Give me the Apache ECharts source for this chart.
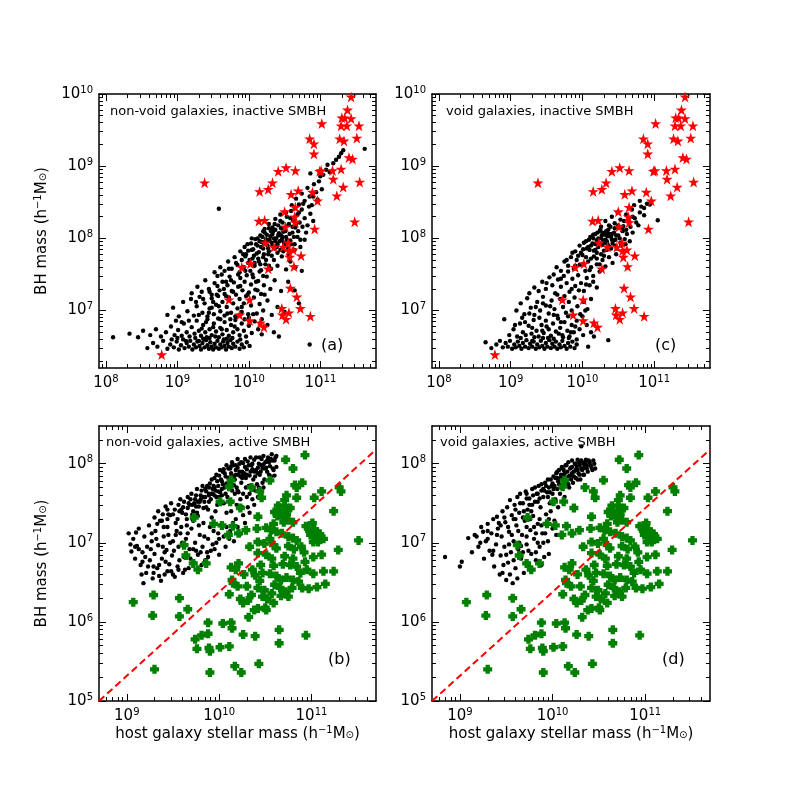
<!DOCTYPE html>
<html>
<head>
<meta charset="utf-8">
<script src="https://cdn.jsdelivr.net/npm/echarts@6/dist/echarts.min.js"></script>
<style>
  html, body { margin: 0; background: #fff; }
  #chart { width: 789px; height: 789px; }
</style>
</head>
<body>
<div id="chart"></div>
<script>
// all values are log10 of the mass

// observed SMBHs, same in (a) and (c)
const redStars = [
  [11.43,9.96],[11.38,9.78],[11.30,9.67],[11.34,9.67],[11.43,9.66],[11.02,9.59],[11.29,9.56],[11.37,9.56],[11.54,9.56],
  [10.85,9.38],[10.91,9.31],[11.27,9.38],[11.33,9.35],[11.51,9.39],[10.91,9.17],[11.40,9.12],[11.45,9.10],
  [10.52,8.98],[10.41,8.93],[10.65,8.94],[10.99,8.93],[11.01,8.94],[11.17,8.94],[11.29,8.96],[11.18,8.82],[11.55,8.78],
  [9.38,8.77],[10.33,8.77],[10.27,8.68],[10.15,8.65],[10.69,8.66],[10.89,8.64],[11.32,8.71],[10.59,8.61],[11.23,8.59],
  [10.96,8.52],[10.65,8.43],[10.50,8.37],[10.64,8.30],[10.14,8.24],[10.22,8.25],[11.48,8.23],[10.51,8.16],[10.65,8.22],
  [10.92,8.13],[10.23,7.94],[10.55,7.94],[10.35,7.88],[10.48,7.88],[10.56,7.83],[10.62,7.84],[10.57,7.74],[10.73,7.76],
  [10.63,7.61],[9.90,7.60],[10.02,7.65],[10.27,7.58],[10.58,7.31],[10.67,7.19],[10.72,7.03],[10.46,7.03],[10.47,6.94],
  [10.56,6.97],[10.52,6.88],[10.86,6.92],[9.72,7.15],[10.01,7.15],[9.87,6.94],[10.01,6.86],[10.16,6.83],[10.21,6.77],
  [8.78,6.39],[10.48,6.19]
];

// observed AGN, same in (b) and (d)
const greenActive = [
  [10.93,8.11],[10.72,8.05],[10.80,7.94],[10.13,7.79],[10.11,7.71],[10.35,7.70],[10.55,7.79],[10.90,7.76],[10.82,7.73],
  [10.84,7.70],[11.30,7.70],[11.32,7.65],[11.11,7.65],[10.44,7.65],[10.73,7.60],[10.84,7.57],[11.03,7.57],[10.01,7.52],
  [10.12,7.52],[10.23,7.44],[10.46,7.57],[9.73,7.32],[9.94,7.24],[10.03,7.22],[10.15,7.21],[10.60,7.39],[10.65,7.41],
  [10.71,7.40],[10.73,7.36],[10.63,7.34],[10.69,7.32],[10.75,7.29],[10.59,7.24],[10.70,7.26],[10.80,7.26],[10.71,7.54],
  [10.71,7.47],[10.64,7.47],[10.41,7.18],[10.42,7.33],[10.94,7.21],[11.01,7.25],[11.03,7.17],[10.98,7.15],[11.06,7.14],
  [10.99,7.10],[11.09,7.11],[11.05,7.06],[11.13,7.05],[11.07,7.01],[11.02,7.01],[11.24,7.40],[11.51,7.03],[11.29,6.91],
  [11.24,6.64],[11.13,6.64],[10.29,7.16],[10.21,7.12],[10.10,7.10],[10.51,7.19],[10.56,7.16],[10.62,7.14],[10.68,7.12],
  [10.75,7.08],[10.80,7.06],[10.84,7.03],[9.62,6.97],[9.64,6.84],[9.72,6.74],[9.86,6.74],[9.77,6.66],[10.13,6.69],
  [10.18,6.66],[10.14,6.53],[10.21,6.74],[10.42,7.01],[10.49,6.99],[10.59,6.97],[10.75,6.96],[10.62,6.93],[10.81,6.92],
  [10.89,6.95],[10.42,6.87],[10.51,6.85],[10.57,6.80],[10.71,6.83],[10.80,6.80],[10.93,6.76],[11.02,6.82],[11.11,6.85],
  [10.45,6.72],[10.59,6.71],[10.69,6.73],[10.77,6.72],[10.84,6.70],[10.95,6.66],[11.02,6.61],[10.36,6.66],[10.39,6.59],
  [10.55,6.61],[10.62,6.58],[10.67,6.53],[10.73,6.56],[10.80,6.53],[10.86,6.51],[10.97,6.42],[10.15,6.49],[10.20,6.45],
  [10.30,6.45],[10.44,6.52],[10.42,6.43],[10.49,6.40],[10.57,6.36],[10.66,6.43],[10.11,6.35],[10.23,6.29],[10.26,6.24],
  [10.31,6.27],[10.35,6.34],[10.47,6.32],[10.52,6.29],[10.51,6.15],[10.59,6.24],[10.67,6.33],[10.72,6.38],[10.75,6.32],
  [10.79,6.43],[10.90,6.43],[11.06,6.44],[11.15,6.48],[9.29,6.34],[9.07,6.25],[9.57,6.30],[9.57,6.07],[9.28,6.08],
  [9.66,6.16],[10.38,6.15],[10.42,6.17],[10.50,6.18],[10.32,6.06],[9.88,5.99],[10.04,5.98],[10.13,5.99],[10.14,5.92],
  [10.26,5.84],[10.39,5.82],[9.88,5.85],[9.74,5.78],[9.81,5.83],[10.65,5.90],[10.94,5.83],[9.76,5.66],[9.89,5.67],
  [9.90,5.63],[10.01,5.68],[10.11,5.69],[10.65,5.73],[10.17,5.44],[10.24,5.36],[10.43,5.47],[9.90,5.36],[9.30,5.40],
  [10.66,7.37],[10.77,7.44],[10.55,7.05],[10.33,6.95],[10.27,6.60],[10.47,6.62],[10.92,6.88],[10.88,6.62],[10.60,6.47]
];

// simulated galaxies (black dots)
const blackNonVoidInactive = [
  [8.58,6.48],[8.66,6.55],[8.72,6.50],[8.80,6.58],[8.86,6.47],[8.90,6.53],[8.95,6.49],[8.99,6.57],[9.02,6.46],[9.05,6.52],
  [9.08,6.60],[9.10,6.48],[9.13,6.55],[9.16,6.50],[9.18,6.58],[9.21,6.46],[9.23,6.53],[9.26,6.49],[9.28,6.57],[9.31,6.51],
  [9.33,6.46],[9.35,6.55],[9.38,6.49],[9.40,6.59],[9.42,6.52],[9.44,6.47],[9.46,6.56],[9.48,6.50],[9.50,6.46],[9.52,6.54],
  [9.54,6.49],[9.56,6.58],[9.58,6.47],[9.60,6.53],[9.62,6.49],[9.64,6.57],[9.66,6.51],[9.68,6.46],[9.70,6.55],[9.72,6.50],
  [9.74,6.59],[9.76,6.48],[9.78,6.54],[9.81,6.50],[9.84,6.57],[9.87,6.47],[9.90,6.53],[9.93,6.49],[9.97,6.56],[10.01,6.51],
  [9.45,6.62],[9.58,6.63],[9.69,6.61],[9.36,6.61],[9.25,6.62],
  [8.10,6.63],[8.33,6.68],[8.45,6.63],[8.52,6.72],[8.62,6.66],[8.70,6.74],[8.77,6.64],[8.84,6.70],[8.91,6.78],[8.96,6.66],
  [9.01,6.73],[9.06,6.65],[9.09,6.82],[9.13,6.70],[9.17,6.64],[9.20,6.77],[9.24,6.68],[9.27,6.86],[9.30,6.72],[9.33,6.65],
  [9.36,6.80],[9.39,6.70],[9.42,6.88],[9.45,6.74],[9.48,6.66],[9.51,6.82],[9.54,6.71],[9.57,6.89],[9.60,6.76],[9.63,6.67],
  [9.66,6.84],[9.69,6.73],[9.72,6.65],[9.75,6.80],[9.78,6.70],[9.81,6.87],[9.84,6.74],[9.87,6.66],[9.90,6.82],[9.93,6.72],
  [9.96,6.64],[10.00,6.79],[10.04,6.69],[10.08,6.85],[10.13,6.74],[10.18,6.67],[10.26,6.80],[10.35,6.70],[10.42,6.64],
  [8.86,6.94],[8.94,7.04],[9.02,6.92],[9.08,7.12],[9.14,6.99],[9.19,7.16],[9.23,6.93],[9.27,7.06],[9.31,7.19],[9.35,6.97],
  [9.38,7.10],[9.42,6.92],[9.45,7.03],[9.48,7.17],[9.51,6.95],[9.54,7.08],[9.57,7.20],[9.60,6.99],[9.63,7.12],[9.66,6.93],
  [9.69,7.05],[9.72,7.18],[9.75,6.97],[9.78,7.10],[9.81,6.92],[9.84,7.03],[9.87,7.16],[9.90,6.98],[9.93,7.10],[9.96,7.20],
  [9.99,6.95],[10.03,7.07],[10.07,7.18],[10.11,6.96],[10.15,7.09],[10.20,7.00],[10.26,7.14],[10.32,6.94],[10.40,7.05],[10.50,6.98],
  [9.20,7.24],[9.28,7.33],[9.34,7.26],[9.39,7.42],[9.44,7.30],[9.48,7.22],[9.52,7.38],[9.56,7.48],[9.59,7.28],[9.63,7.40],
  [9.66,7.23],[9.70,7.35],[9.73,7.47],[9.76,7.27],[9.79,7.39],[9.82,7.22],[9.85,7.33],[9.88,7.45],[9.91,7.28],[9.94,7.40],
  [9.97,7.49],[10.00,7.25],[10.03,7.36],[10.06,7.46],[10.09,7.29],[10.13,7.41],[10.17,7.23],[10.21,7.35],[10.25,7.47],[10.30,7.30],
  [10.36,7.42],[10.45,7.27],[10.55,7.40],[10.74,7.55],
  [9.52,7.53],[9.60,7.60],[9.66,7.55],[9.71,7.68],[9.76,7.58],[9.80,7.74],[9.84,7.63],[9.87,7.53],[9.90,7.70],[9.93,7.60],
  [9.96,7.78],[9.99,7.66],[10.02,7.55],[10.05,7.72],[10.08,7.62],[10.11,7.79],[10.14,7.68],[10.17,7.56],[10.20,7.74],[10.23,7.64],
  [10.27,7.78],[10.31,7.58],[10.35,7.70],[10.40,7.62],[10.46,7.75],[10.52,7.57],[10.58,7.68],[10.65,7.60],
  [9.88,7.82],[9.94,7.88],[9.99,7.83],[10.03,7.93],[10.06,7.85],[10.09,7.99],[10.12,7.90],[10.14,7.81],[10.16,8.04],[10.18,7.95],
  [10.20,7.86],[10.22,8.08],[10.24,7.99],[10.26,7.90],[10.28,7.82],[10.30,8.03],[10.32,7.94],[10.34,8.10],[10.36,7.86],[10.38,8.00],
  [10.40,7.92],[10.42,8.07],[10.44,7.84],[10.46,7.98],[10.48,8.09],[10.50,7.90],[10.52,8.02],[10.55,7.86],[10.58,7.97],[10.61,8.08],
  [10.64,7.92],[10.68,8.02],[10.72,7.88],[10.78,7.98],[10.12,8.00],[10.27,7.96],[10.33,8.06],[10.21,7.93],[10.37,7.96],[10.45,8.04],
  [10.22,8.13],[10.28,8.20],[10.33,8.15],[10.37,8.27],[10.41,8.18],[10.44,8.33],[10.47,8.22],[10.50,8.14],[10.53,8.30],[10.56,8.20],
  [10.59,8.38],[10.62,8.25],[10.65,8.15],[10.68,8.33],[10.71,8.22],[10.74,8.40],[10.78,8.28],[10.82,8.18],[10.86,8.34],[10.90,8.24],
  [10.60,8.46],[10.66,8.55],[10.70,8.47],[10.74,8.62],[10.78,8.52],[10.82,8.70],[10.85,8.58],[10.88,8.46],[10.91,8.75],[10.94,8.64],
  [10.98,8.79],[11.02,8.68],[10.86,8.90],
  [11.04,8.88],[11.08,8.95],[11.13,8.92],[11.18,9.04],[11.22,9.09],[11.26,9.13],[11.29,9.18],[11.32,9.22],[11.62,9.24],
  [9.58,8.41],[10.85,6.53],[10.64,7.28],[10.70,7.10],
  [9.95,7.75],[9.98,7.92],[10.01,7.70],[10.04,7.84],[10.07,7.76],[10.10,7.92],[10.13,7.72],[10.15,7.96],[10.17,7.88],[10.19,8.02],
  [10.21,7.78],[10.23,7.96],[10.25,8.05],[10.27,7.86],[10.29,7.98],[10.31,8.10],[10.33,7.90],[10.35,8.00],[10.37,8.12],[10.39,7.88],
  [10.41,8.04],[10.43,7.96],[10.45,8.14],[10.47,8.02],[10.49,7.94],[10.51,8.10],[10.53,7.98],[10.55,8.18],[10.57,8.06],[10.59,7.92],
  [10.61,8.16],[10.63,8.02],[10.66,8.20],[10.69,8.10],[10.72,7.98],[10.75,8.16],[10.80,8.08],[10.08,7.66],[10.16,7.64],[10.24,7.70],
  [10.32,7.76],[10.40,7.80],[10.48,7.82],[10.56,7.78],[10.64,7.84],[10.04,8.00],[10.20,8.10],[10.28,8.14],[10.36,8.20],[10.44,8.24],
  [10.52,8.36],[10.58,8.28],[10.64,8.42],[10.70,8.36],[10.76,8.48],[10.84,8.44],[10.90,8.58],[10.96,8.54],[11.00,8.86],[11.10,9.02],
  [9.30,6.58],[9.41,6.63],[9.53,6.64],[9.65,6.60],[9.77,6.62],[9.88,6.60],[9.30,6.94],[9.40,6.84],[9.50,7.12],[9.60,6.88],
  [9.70,6.96],[9.80,6.78],[9.90,7.05],[10.00,6.90],[9.45,7.26],[9.55,7.22],[9.65,7.30],[9.75,7.42],[9.85,7.50],[9.95,7.55],
  [10.05,7.50],[10.15,7.54],[9.62,7.50],[9.72,7.58],[9.82,7.66],[9.92,7.78],[10.10,7.40],[10.20,7.48],[10.28,7.62],[9.36,7.16],
  [9.48,7.04],[9.58,7.06],[9.68,7.20],[9.78,7.26],[9.88,7.34],[9.98,7.22],[9.26,7.12],[9.16,6.86],[9.06,6.84],[8.98,6.86],
  [9.12,6.58],[9.00,6.62],[8.92,6.60],[9.84,6.93],[9.94,6.88],[10.06,6.95],[10.18,6.88],[10.22,7.22],[10.12,7.28],[9.50,6.77],
  [9.62,6.74],[9.74,6.88],[9.34,6.75],[9.44,6.97],[9.56,7.34],[9.68,7.40]
];

const blackVoidInactive = [
  [8.65,6.56],[8.73,6.48],[8.80,6.53],[8.85,6.58],[8.89,6.49],[8.93,6.55],[8.96,6.50],[8.99,6.58],[9.02,6.47],[9.05,6.53],
  [9.07,6.49],[9.10,6.57],[9.12,6.51],[9.15,6.47],[9.17,6.55],[9.20,6.50],[9.22,6.59],[9.25,6.48],[9.27,6.54],[9.30,6.50],
  [9.32,6.57],[9.35,6.47],[9.37,6.53],[9.40,6.49],[9.42,6.58],[9.44,6.51],[9.47,6.47],[9.49,6.55],[9.51,6.50],[9.54,6.59],
  [9.56,6.48],[9.58,6.54],[9.61,6.50],[9.63,6.57],[9.65,6.47],[9.68,6.53],[9.70,6.49],[9.72,6.58],[9.75,6.51],[9.78,6.47],
  [9.80,6.55],[9.83,6.50],[9.86,6.57],[9.89,6.48],[9.92,6.53],[10.08,6.50],[10.36,6.59],[9.14,6.62],[9.33,6.63],[9.52,6.62],
  [9.73,6.63],
  [8.91,6.88],[8.98,6.66],[9.04,6.74],[9.09,6.64],[9.13,6.82],[9.17,6.70],[9.21,6.66],[9.25,6.79],[9.29,6.68],[9.32,6.87],
  [9.36,6.72],[9.39,6.64],[9.43,6.80],[9.46,6.69],[9.49,6.86],[9.53,6.74],[9.56,6.65],[9.59,6.82],[9.63,6.71],[9.66,6.89],
  [9.69,6.76],[9.72,6.66],[9.75,6.84],[9.79,6.72],[9.82,6.64],[9.85,6.80],[9.88,6.70],[9.92,6.86],[9.96,6.74],[10.01,6.66],
  [10.06,6.80],[10.12,6.70],[10.16,6.64],
  [9.08,7.00],[9.14,7.10],[9.19,6.95],[9.23,7.17],[9.28,7.04],[9.33,6.94],[9.37,7.12],[9.41,7.00],[9.45,7.19],[9.49,7.07],
  [9.53,6.96],[9.57,7.14],[9.61,7.02],[9.65,6.93],[9.69,7.16],[9.73,7.05],[9.77,6.97],[9.81,7.12],[9.85,7.00],[9.89,7.18],
  [9.93,7.06],[9.97,6.95],[10.02,7.12],[10.07,7.02],[10.12,7.16],
  [9.26,7.24],[9.33,7.32],[9.39,7.27],[9.44,7.40],[9.49,7.30],[9.54,7.46],[9.58,7.35],[9.62,7.24],[9.66,7.43],[9.70,7.33],
  [9.74,7.48],[9.78,7.38],[9.82,7.26],[9.86,7.44],[9.90,7.34],[9.94,7.49],[9.98,7.38],[10.02,7.27],[10.06,7.45],[10.10,7.35],
  [10.15,7.48],[10.20,7.32],
  [9.64,7.60],[9.70,7.55],[9.75,7.68],[9.80,7.62],[9.84,7.74],[9.88,7.58],[9.92,7.70],[9.96,7.63],[10.00,7.77],[10.04,7.55],
  [10.08,7.68],[10.12,7.60],[10.16,7.75],[10.20,7.64],[10.24,7.54],[10.28,7.70],[10.32,7.61],[10.37,7.74],[10.42,7.66],[10.47,7.78],
  [9.90,7.82],[9.96,7.90],[10.01,7.85],[10.05,7.96],[10.08,7.88],[10.11,8.02],[10.14,7.93],[10.16,7.83],[10.18,8.06],[10.20,7.97],
  [10.22,7.88],[10.24,8.10],[10.26,8.00],[10.28,7.91],[10.30,7.83],[10.32,8.05],[10.34,7.96],[10.36,8.12],[10.38,7.88],[10.40,8.02],
  [10.42,7.93],[10.44,8.08],[10.46,7.98],[10.48,7.86],[10.50,8.04],[10.53,7.94],[10.56,8.10],[10.59,7.99],[10.62,8.06],[10.66,7.96],
  [10.70,8.08],[10.15,8.00],[10.29,7.97],[10.35,8.03],[10.41,7.98],
  [10.26,8.16],[10.32,8.24],[10.37,8.18],[10.41,8.30],[10.45,8.21],[10.49,8.36],[10.53,8.26],[10.57,8.17],[10.61,8.33],[10.65,8.23],
  [10.69,8.40],[10.73,8.28],[10.78,8.18],[10.82,8.44],[10.86,8.32],[10.90,8.48],[10.94,8.47],[10.80,8.52],[11.05,8.25],[10.72,8.46],
  [9.98,7.80],[10.02,7.94],[10.06,7.86],[10.09,7.98],[10.12,7.90],[10.15,8.05],[10.18,7.92],[10.21,8.08],[10.23,7.94],[10.25,8.12],
  [10.27,8.04],[10.30,7.94],[10.33,8.10],[10.35,7.92],[10.37,8.06],[10.39,8.16],[10.41,8.06],[10.43,7.97],[10.45,8.14],[10.47,8.04],
  [10.50,8.18],[10.52,8.00],[10.55,8.14],[10.58,8.24],[10.61,8.12],[10.64,8.28],[10.67,8.16],[10.70,8.30],[10.75,8.22],[10.80,8.36],
  [10.86,8.42],[10.05,7.74],[10.12,7.72],[10.20,7.80],[10.26,7.78],[10.34,7.84],[10.40,7.86],[10.46,7.90],[10.54,7.90],[10.60,7.92],
  [10.10,7.84],[10.18,7.84],[10.22,8.00],[10.28,8.08],[10.32,7.98],
  [9.30,6.58],[9.45,6.62],[9.60,6.61],[9.81,6.62],[9.92,6.60],[9.20,6.84],[9.30,6.76],[9.40,6.90],[9.50,6.78],[9.60,6.94],
  [9.70,6.84],[9.80,6.92],[9.90,6.78],[10.00,6.92],[9.35,7.05],[9.45,7.10],[9.55,7.06],[9.65,7.22],[9.75,7.20],[9.85,7.30],
  [9.95,7.28],[10.05,7.36],[10.15,7.40],[9.50,7.38],[9.60,7.50],[9.70,7.44],[9.80,7.54],[9.90,7.62],[10.00,7.64],[10.10,7.56],
  [10.20,7.72],[10.30,7.76],[10.24,7.64],[9.78,7.70],[9.86,7.80],[9.94,7.76],[9.16,6.90],[9.26,6.96],[9.06,6.80],[9.44,6.72],
  [9.67,6.68],[9.84,6.70],[10.04,7.00]
];

const blackNonVoidActive = [
  [9.02,7.12],[9.05,6.89],[9.07,7.05],[9.09,6.80],[9.11,6.96],[9.13,7.18],[9.15,6.72],[9.17,6.88],[9.18,6.49],[9.19,7.08],
  [9.21,6.62],[9.22,6.95],[9.24,7.22],[9.25,6.78],[9.27,7.02],[9.28,6.55],[9.30,6.86],[9.31,7.15],[9.33,6.68],[9.34,6.97],
  [9.36,7.28],[9.37,6.52],[9.38,6.80],[9.40,7.08],[9.41,6.60],[9.43,6.91],[9.44,7.20],[9.46,6.73],[9.47,7.35],[9.49,6.84],
  [9.50,7.02],[9.52,6.57],[9.53,7.25],[9.55,6.70],[9.56,6.95],[9.58,7.12],[9.59,7.42],[9.61,6.62],[9.62,6.82],[9.64,7.05],
  [9.65,7.30],[9.67,6.68],[9.68,6.92],[9.70,7.18],[9.71,7.48],[9.73,6.75],[9.74,7.00],[9.76,7.38],[9.77,6.85],[9.79,7.10],
  [9.80,7.55],[9.82,6.95],[9.83,7.25],[9.85,6.78],[9.86,7.45],[9.88,7.05],[9.89,7.62],[9.91,6.90],[9.92,7.32],[9.94,7.15],
  [9.95,7.70],[9.97,7.00],[9.98,7.48],[10.00,6.85],[10.02,7.22],[10.03,7.60],[10.05,7.08],[10.07,6.95],[10.08,7.38],[10.10,7.75],
  [10.12,7.15],[10.14,7.52],[10.16,7.02],[10.18,7.30],[10.20,7.66],[10.22,7.10],[10.25,7.45],[10.28,7.25],[10.30,7.58],[10.33,7.38],
  [9.04,6.98],[9.10,7.13],[9.16,6.60],[9.20,6.82],[9.26,6.92],[9.29,6.70],[9.32,7.05],[9.35,6.58],[9.39,6.95],[9.42,6.76],
  [9.45,7.10],[9.48,6.64],[9.51,6.90],[9.54,7.15],[9.57,6.78],[9.60,7.00],[9.63,6.66],[9.66,7.12],[9.69,6.80],[9.72,7.28],
  [9.75,6.90],[9.78,7.22],[9.81,6.72],[9.84,7.08],[9.87,6.88],[9.90,7.20],[9.93,6.98],[9.96,7.40],[9.99,7.12],
  [9.30,7.32],[9.34,7.40],[9.38,7.28],[9.42,7.46],[9.45,7.36],[9.48,7.50],[9.52,7.42],[9.55,7.30],[9.58,7.55],[9.61,7.45],
  [9.64,7.36],[9.66,7.58],
  [9.68,7.48],[9.70,7.62],[9.72,7.40],[9.74,7.55],[9.76,7.68],[9.78,7.46],[9.80,7.60],[9.82,7.72],[9.84,7.52],[9.86,7.65],
  [9.88,7.42],[9.90,7.75],[9.91,7.55],[9.93,7.68],[9.95,7.82],[9.97,7.58],[9.99,7.72],
  [10.00,7.85],[10.01,7.64],[10.03,7.78],[10.04,7.90],[10.06,7.70],[10.07,7.84],[10.09,7.58],[10.10,7.94],[10.11,7.76],[10.13,7.88],
  [10.14,7.66],[10.15,7.98],[10.17,7.80],[10.18,7.92],[10.19,7.70],[10.21,7.86],[10.22,8.00],[10.24,7.76],[10.25,7.90],[10.26,7.62],
  [10.28,7.96],[10.29,7.82],[10.31,8.03],[10.32,7.72],[10.34,7.90],[10.35,7.98],[10.37,7.80],[10.38,8.05],[10.40,7.92],
  [10.41,7.74],[10.43,8.00],[10.44,7.86],[10.46,8.06],[10.47,7.94],[10.49,7.80],[10.50,8.02],[10.52,7.90],[10.53,8.08],[10.55,7.97],
  [10.56,7.84],[10.58,8.04],[10.59,7.92],[10.61,8.08],[10.62,7.96],[10.60,7.85],[10.48,7.70],[10.45,7.62],[10.39,7.66],[10.36,7.55],
  [10.57,8.12],
  [10.02,7.80],[10.08,7.75],[10.12,7.83],[10.16,7.73],[10.20,7.95],[10.23,7.84],[10.27,7.88],[10.30,7.93],[10.33,7.85],[10.36,7.93],
  [10.39,7.84],[10.42,7.95],[10.45,7.90],[10.48,7.99],[10.51,7.95],[10.54,8.02],[10.05,7.93],[10.13,7.97],[10.18,7.86],[10.26,8.01],
  [9.92,7.62],[9.96,7.66],[9.85,7.58],[9.79,7.52],[9.73,7.50],[9.98,7.78],[9.89,7.70],
  [9.40,7.20],[9.44,7.30],[9.50,7.36],[9.56,7.48],[9.60,7.38],[9.62,7.52],[9.66,7.44],[9.69,7.55],[9.71,7.36],[9.75,7.60],
  [9.77,7.52],[9.81,7.66],[9.83,7.58],[9.87,7.72],[9.89,7.60],[9.92,7.80],[9.94,7.72],[9.97,7.86],[9.99,7.65],[10.01,7.92],
  [10.04,7.74],[10.06,7.88],[10.08,7.98],[10.10,7.82],[10.12,7.94],[10.14,8.02],[10.16,7.84],[10.18,7.98],[10.20,8.06],[10.22,7.90],
  [10.24,8.02],[10.26,7.86],[10.28,8.06],[10.30,7.86],[10.32,7.98],[10.34,8.08],[10.36,8.00],[10.38,7.90],[10.40,8.08],[10.42,7.88],
  [10.44,8.08],[10.46,7.98],[10.48,8.10],[10.50,7.94],[10.52,8.04],[10.54,7.86],[10.56,8.06],[10.58,7.94],[10.60,8.04],[10.62,8.10],
  [10.47,7.76],[10.43,7.70],[10.37,7.70],[10.33,7.62],[10.29,7.70],[10.25,7.82],[10.21,7.64],[10.17,7.62],[10.11,7.68],[10.07,7.62],
  [10.03,7.68],[9.95,7.60],[9.89,7.52],[9.83,7.44],[9.77,7.34],[9.71,7.30],[9.65,7.22],[9.59,7.20],[9.53,7.10],[9.47,7.00],
  [9.41,6.88],[9.35,6.72],[9.29,6.62],[9.23,6.70],[9.17,6.76],[9.13,6.92],[9.09,6.95],[9.27,7.12],[9.33,7.24],[9.39,7.36],
  [9.44,7.42],[9.57,7.40],[9.67,7.50],[9.75,7.46],[9.85,7.68],[9.93,7.62],[10.00,7.58],[10.05,7.50],[10.13,7.40],[10.19,7.48],
  [10.23,7.55],[10.15,7.25],[10.08,7.20],[10.00,7.05],[9.95,6.92],[9.88,6.82],[9.80,6.88],[9.72,6.92],[9.64,6.86],[9.56,6.66],
  [9.50,6.60],[9.44,6.64],[10.11,7.05],[10.20,7.20],[10.26,7.35],[10.31,7.45],[10.38,7.48],[10.42,7.58]
];

const blackVoidActive = [
  [8.84,6.82],[9.00,6.70],[9.02,6.76],[9.09,7.06],[9.13,6.88],[9.16,7.10],[9.18,7.08],[9.20,6.95],[9.23,7.20],[9.25,7.14],
  [9.26,6.80],[9.28,7.02],[9.30,7.24],[9.32,6.90],[9.34,7.12],[9.36,7.30],[9.37,6.70],[9.39,6.98],[9.40,7.33],[9.41,7.18],
  [9.43,6.60],[9.44,6.84],[9.45,7.08],[9.46,7.40],[9.48,6.95],[9.49,7.26],[9.50,6.53],[9.51,7.45],[9.52,6.75],[9.53,7.14],
  [9.54,7.54],[9.55,6.88],[9.56,7.35],[9.57,6.49],[9.58,7.02],[9.59,7.48],[9.60,6.68],[9.61,7.22],[9.62,7.58],[9.63,6.92],
  [9.64,7.38],[9.65,7.62],[9.66,6.80],[9.67,7.10],[9.68,7.50],[9.69,6.62],[9.70,7.28],[9.71,7.65],[9.72,6.98],[9.73,7.42],
  [9.74,6.72],[9.75,7.56],[9.76,7.16],[9.77,6.86],[9.78,7.68],[9.79,7.34],[9.80,7.05],[9.81,7.52],[9.82,6.78],[9.83,7.62],
  [9.84,7.24],[9.85,7.72],[9.86,6.95],[9.87,7.45],[9.88,7.66],[9.89,7.12],[9.90,7.58],[9.91,6.82],[9.92,7.76],[9.93,7.36],
  [9.94,7.64],[9.95,7.02],[9.96,7.70],[9.97,7.50],[9.98,7.80],[10.00,7.62],[10.01,7.84],[10.02,7.72],[10.03,7.55],[10.04,7.88],
  [10.05,7.68],[10.06,7.78],[10.07,7.92],[10.08,7.62],[10.09,7.82],[10.10,7.96],[10.11,7.72],[10.12,7.86],[10.13,7.58],[10.14,7.98],
  [10.15,7.78],[10.16,7.90],[10.17,8.02],[10.18,7.70],[10.19,7.85],[10.20,7.95],[10.21,8.04],[10.22,7.76],[10.23,7.90],[10.24,8.00],
  [10.25,7.82],[10.26,7.96],[10.27,8.05],[10.28,7.88],[10.29,7.98],[10.30,7.80],[10.31,8.04],[10.32,7.92],[10.33,8.00],[10.34,7.86],
  [10.35,7.96],[10.36,8.05],[10.38,7.90],[10.40,8.02],[10.42,7.95],[10.44,8.04],[10.46,7.94],[10.31,8.22],
  [9.30,7.05],[9.35,6.85],[9.42,7.25],[9.47,6.72],[9.53,6.98],[9.58,7.30],[9.63,7.15],[9.68,6.88],[9.72,7.20],[9.77,7.40],
  [9.82,7.12],[9.86,7.30],[9.90,7.00],[9.94,7.22],[9.98,7.40],[10.02,7.28],[10.06,7.45],[9.96,6.86],[10.04,7.10],[9.88,6.72],
  [10.00,7.75],[10.05,7.82],[10.09,7.70],[10.13,7.80],[10.17,7.74],[10.21,7.88],[10.25,7.92],[10.29,7.86],[10.33,7.94],[10.37,7.98],
  [10.12,7.92],[10.20,7.80],[10.27,7.80],[9.95,7.58],[9.90,7.68],[9.84,7.52],[9.78,7.48],[9.72,7.56],
  [9.60,7.42],[9.65,7.50],[9.69,7.40],[9.72,7.62],[9.75,7.48],[9.79,7.60],[9.81,7.70],[9.84,7.62],[9.86,7.56],[9.88,7.74],
  [9.91,7.66],[9.93,7.72],[9.95,7.80],[9.97,7.64],[9.99,7.72],[10.01,7.68],[10.03,7.82],[10.05,7.90],[10.07,7.74],[10.09,7.86],
  [10.11,7.94],[10.13,7.88],[10.15,7.98],[10.17,7.84],[10.19,7.94],[10.21,7.96],[10.23,7.84],[10.25,8.00],[10.27,7.92],[10.29,8.02],
  [10.31,7.94],[10.33,7.86],[10.35,8.02],[10.37,7.94],[10.39,8.04],[10.41,7.98],[10.43,7.92],[10.45,8.00],[9.40,7.10],[9.44,7.22],
  [9.48,7.32],[9.52,7.20],[9.56,7.10],[9.60,7.30],[9.64,7.00],[9.68,7.32],[9.72,7.08],[9.76,7.30],[9.80,7.20],[9.84,7.00],
  [9.88,7.22],[9.92,7.12],[9.96,7.30],[10.00,7.18],[9.50,6.85],[9.58,6.78],[9.66,6.96],[9.74,6.90],[9.82,6.88],[9.46,6.62],
  [9.54,6.60],[9.62,6.55],[9.36,6.90],[9.30,7.15],[9.22,7.00]
];

// red dashed reference line in (b) and (d), end points
const dashedLine = [[8.70,5.00],[11.70,8.18]];

// tick exponents
const xTickExpTop = [8, 9, 10, 11];
const yTickExpTop = [7, 8, 9, 10];
const xTickExpBottom = [9, 10, 11];
const yTickExpBottom = [5, 6, 7, 8];

const FONT = 'DejaVu Sans';
const STAR = 'path://M50,0 L61.2,34.5 L97.6,34.5 L68.2,55.9 L79.4,90.5 L50,69.1 L20.6,90.5 L31.8,55.9 L2.4,34.5 L38.8,34.5 Z';
const PLUS = 'path://M2.6,0 L7.4,0 L7.4,2.6 L10,2.6 L10,7.4 L7.4,7.4 L7.4,10 L2.6,10 L2.6,7.4 L0,7.4 L0,2.6 L2.6,2.6 Z';

const toMass = p => [Math.pow(10, p[0]), Math.pow(10, p[1])];

const labelRich = {
  b: { fontFamily: FONT, fontSize: 15, color: '#000' },
  s: { fontFamily: FONT, fontSize: 10, color: '#000', verticalAlign: 'bottom', padding: [0, 0, 8, 0] }
};
const nameRich = {
  t: { fontFamily: FONT, fontSize: 15, color: '#000', padding: [0, 0, 2, 0] },
  s: { fontFamily: FONT, fontSize: 10, color: '#000', padding: [0, 0, 10, 0] },
  u: { fontFamily: FONT, fontSize: 10, color: '#000', padding: [0, 0, 0, 0] }
};
const unitName = '{t|(h}{s|−1}{t|M}{u|⊙}{t|)}';

function minorValues(lo, hi) {
  const out = [];
  for (let d = Math.floor(lo); d <= Math.ceil(hi); d++) {
    for (let k = 2; k <= 9; k++) {
      const e = d + Math.log10(k);
      if (e > lo && e < hi) out.push(k * Math.pow(10, d));
    }
  }
  return out;
}

function axisSet(dim, grid, lim, majors, withLabels, name, nameGap) {
  const pos = dim === 'x' ? ['bottom', 'top'] : ['left', 'right'];
  const majorVals = majors.map(e => Math.pow(10, e));
  const minorVals = minorValues(lim[0], lim[1]);
  const base = {
    type: 'log', logBase: 10, gridIndex: grid,
    min: Math.pow(10, lim[0]), max: Math.pow(10, lim[1]),
    splitLine: { show: false }, axisLine: { show: false, onZero: false },
    axisLabel: { show: false }
  };
  const tick = (vals, len) => ({ show: true, inside: true, length: len, customValues: vals, lineStyle: { color: '#000', width: 1 } });
  const main = Object.assign({}, base, {
    position: pos[0],
    axisLine: { show: true, onZero: false, lineStyle: { color: '#000', width: 1.5 } },
    axisTick: tick(majorVals, 7),
    axisLabel: withLabels ? { show: true, customValues: majorVals, margin: 6, rich: labelRich,
      formatter: v => '{b|10}{s|' + Math.round(Math.log10(v)) + '}' } : { show: false }
  });
  if (name) {
    main.name = name;
    main.nameLocation = 'middle';
    main.nameGap = nameGap;
    main.nameTextStyle = { rich: nameRich };
  }
  return [
    main,
    Object.assign({}, base, { position: pos[1], axisLine: { show: true, onZero: false, lineStyle: { color: '#000', width: 1.5 } }, axisTick: tick(majorVals, 7) }),
    Object.assign({}, base, { position: pos[0], axisTick: tick(minorVals, 4) }),
    Object.assign({}, base, { position: pos[1], axisTick: tick(minorVals, 4) })
  ];
}

const topX = [Math.log10(8e7), Math.log10(6e11)];
const topY = [Math.log10(1.6e6), 10];
const botX = [Math.log10(5e8), Math.log10(5e11)];
const botY = [5, Math.log10(3e8)];

const panels = [
  { box: { left: 99, top: 94, width: 277, height: 274 }, xl: topX, yl: topY, xt: xTickExpTop, yt: yTickExpTop,
    black: blackNonVoidInactive, marks: redStars, kind: 'star', yName: true, xName: false,
    text: 'non-void galaxies, inactive SMBH', tx: 110, ty: 112, tag: '(a)', gx: 321, gy: 346 },
  { box: { left: 432, top: 94, width: 278, height: 274 }, xl: topX, yl: topY, xt: xTickExpTop, yt: yTickExpTop,
    black: blackVoidInactive, marks: redStars, kind: 'star', yName: false, xName: false,
    text: 'void galaxies, inactive SMBH', tx: 446, ty: 112, tag: '(c)', gx: 655, gy: 346 },
  { box: { left: 99, top: 426, width: 277, height: 275 }, xl: botX, yl: botY, xt: xTickExpBottom, yt: yTickExpBottom,
    black: blackNonVoidActive, marks: greenActive, kind: 'agn', yName: true, xName: true,
    text: 'non-void galaxies, active SMBH', tx: 106, ty: 443, tag: '(b)', gx: 328, gy: 660 },
  { box: { left: 432, top: 426, width: 278, height: 275 }, xl: botX, yl: botY, xt: xTickExpBottom, yt: yTickExpBottom,
    black: blackVoidActive, marks: greenActive, kind: 'agn', yName: false, xName: true,
    text: 'void galaxies, active SMBH', tx: 440, ty: 443, tag: '(d)', gx: 662, gy: 660 }
];

const grid = [], xAxis = [], yAxis = [], series = [], graphic = [];
panels.forEach((p, g) => {
  grid.push(Object.assign({ containLabel: false }, p.box));
  xAxis.push(...axisSet('x', g, p.xl, p.xt, true, p.xName ? '{t|host galaxy stellar mass }' + unitName : '', 24));
  yAxis.push(...axisSet('y', g, p.yl, p.yt, true, p.yName ? '{t|BH mass }' + unitName : '', 46));
  const ax = { xAxisIndex: g * 4, yAxisIndex: g * 4 };
  series.push(Object.assign({
    type: 'scatter', symbol: 'circle', symbolSize: 4.4, silent: true,
    itemStyle: { color: '#000', opacity: 1 }, data: p.black.map(toMass)
  }, ax));
  if (p.kind === 'star') {
    series.push(Object.assign({
      type: 'scatter', symbol: STAR, symbolSize: 11, silent: true,
      itemStyle: { color: '#ff0000', opacity: 1 }, data: p.marks.map(toMass)
    }, ax));
  } else {
    series.push(Object.assign({
      type: 'scatter', symbol: PLUS, symbolSize: 9, silent: true,
      itemStyle: { color: '#008000', opacity: 1 }, data: p.marks.map(toMass)
    }, ax));
    series.push(Object.assign({
      type: 'line', symbol: 'none', silent: true, clip: true,
      lineStyle: { color: '#ff0000', width: 2, type: [7, 4] }, data: dashedLine.map(toMass)
    }, ax));
  }
  graphic.push({ type: 'text', x: p.tx, y: p.ty, silent: true,
    style: { text: p.text, fill: '#000', font: '13px "DejaVu Sans"', verticalAlign: 'middle' } });
  graphic.push({ type: 'text', x: p.gx, y: p.gy, silent: true,
    style: { text: p.tag, fill: '#000', font: '16px "DejaVu Sans"', verticalAlign: 'middle' } });
});

const chart = echarts.init(document.getElementById('chart'), null, { renderer: 'canvas' });
chart.setOption({
  animation: false,
  backgroundColor: '#fff',
  textStyle: { fontFamily: FONT },
  grid, xAxis, yAxis, series, graphic
});
</script>
</body>
</html>
